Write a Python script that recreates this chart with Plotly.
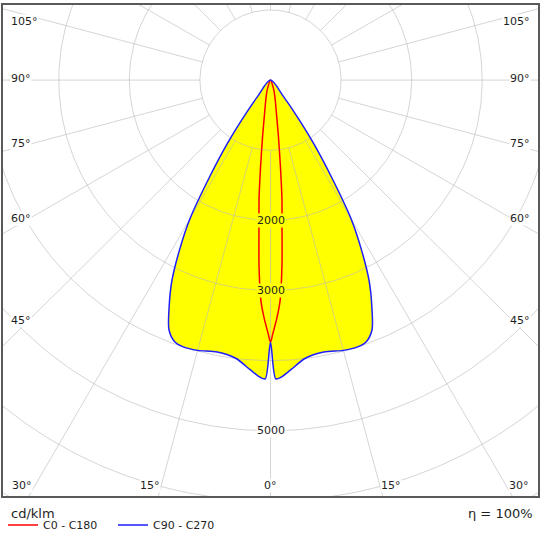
import numpy as np
import plotly.graph_objects as go

# luminous intensity distribution, cd/klm (both halves symmetric)
gamma_c0 = [0, 0.5, 1.5, 2.5, 3.5, 4.5, 5.5, 6.5, 8, 10, 12.5, 15, 17.5, 20, 25]
cd_c0 = [3740, 3620, 3400, 3140, 2660, 2080, 1690, 1240, 800, 485, 325, 230, 170, 110, 0]

gamma_c90 = [0, 1, 2, 4, 7, 11, 15, 18, 20, 22, 24, 26, 28, 30, 32, 34, 36, 38, 40]
cd_c90 = [3740, 4260, 4240, 4140, 4000, 3950, 3990, 4000, 3970, 3840, 3530, 3190,
          2750, 2280, 1630, 1110, 630, 300, 0]

rings = [1000, 2000, 3000, 4000, 5000, 6000, 7000]
ring_labels = [2000, 3000, 5000]
side_ticks = ['105°', '90°', '75°', '60°', '45°']
bottom_ticks = ['30°', '15°', '0°', '15°', '30°']
series_names = ['C0 - C180', 'C90 - C270']
unit = 'cd/klm'
efficiency = 'η = 100%'

K = 1000 / 70.7          # cd/klm per pixel
CX, CY = 271, 78.7       # lamp centre in pixels


def px(xp, yp):
    return (xp - CX) * K, (CY - yp) * K


def half_planes(gamma, cd):
    g = np.radians(gamma)
    v = np.array(cd, dtype=float)
    x = np.concatenate([-(v * np.sin(g))[::-1], (v * np.sin(g))[1:]])
    y = np.concatenate([-(v * np.cos(g))[::-1], -(v * np.cos(g))[1:]])
    return x, y


x0, y0 = half_planes(gamma_c0, cd_c0)
x90, y90 = half_planes(gamma_c90, cd_c90)

grid_col = 'rgba(185,185,185,0.6)'
txt_col = '#1e1e1e'
fig = go.Figure()

# yellow body of the light distribution
fig.add_trace(go.Scatter(x=x90, y=y90, mode='lines', fill='toself', fillcolor='#ffff00',
                         line=dict(width=0, shape='spline', smoothing=0.8),
                         showlegend=False, hoverinfo='skip'))

# grid circles
t = np.linspace(0, 2 * np.pi, 361)
cx, cy = [], []
for r in rings:
    cx += list(r * np.sin(t)) + [None]
    cy += list(-r * np.cos(t)) + [None]
fig.add_trace(go.Scatter(x=cx, y=cy, mode='lines', line=dict(color=grid_col, width=1),
                         showlegend=False, hoverinfo='skip'))

# radial lines every 15 degrees, starting at the first ring
rx, ry = [], []
for a in range(0, 360, 15):
    ar = np.radians(a)
    rx += [rings[0] * np.sin(ar), 9000 * np.sin(ar), None]
    ry += [-rings[0] * np.cos(ar), -9000 * np.cos(ar), None]
fig.add_trace(go.Scatter(x=rx, y=ry, mode='lines', line=dict(color=grid_col, width=1),
                         showlegend=False, hoverinfo='skip'))

fig.add_trace(go.Scatter(x=x0, y=y0, mode='lines', name=series_names[0],
                         line=dict(color='#ff0000', width=1.5, shape='spline', smoothing=0.8)))
fig.add_trace(go.Scatter(x=x90, y=y90, mode='lines', name=series_names[1],
                         line=dict(color='#1e1eff', width=1.5, shape='spline', smoothing=0.8)))

ann = []
for v in ring_labels:
    ann.append(dict(x=0, y=-v, text=str(v), showarrow=False, borderpad=0,
                    bgcolor='#ffff00' if v < cd_c90[0] else 'white',
                    font=dict(size=11, color=txt_col)))

side_y = [20, 77.5, 143, 218, 321]
for lab, yp in zip(side_ticks, side_y):
    xl, yl = px(10, yp)
    xr, _ = px(532, yp)
    ann.append(dict(x=xl, y=yl, text=lab, xanchor='left', showarrow=False, borderpad=0,
                    bgcolor='white', font=dict(size=11, color=txt_col)))
    ann.append(dict(x=xr, y=yl, text=lab, xanchor='right', showarrow=False, borderpad=0,
                    bgcolor='white', font=dict(size=11, color=txt_col)))

bottom_x = [22.5, 150, 271, 392, 520]
for lab, xp in zip(bottom_ticks, bottom_x):
    xb, yb = px(xp, 487)
    ann.append(dict(x=xb, y=yb, text=lab, showarrow=False, borderpad=0,
                    bgcolor='white', font=dict(size=11, color=txt_col)))

ann.append(dict(x=0.011, y=-0.036, xref='paper', yref='paper', xanchor='left', yanchor='middle',
                text=unit, showarrow=False, font=dict(size=13, color=txt_col)))
ann.append(dict(x=0.994, y=-0.036, xref='paper', yref='paper', xanchor='right', yanchor='middle',
                text=efficiency, showarrow=False, font=dict(size=13, color=txt_col)))

xa0, ya0 = px(3, 498)
xa1, ya1 = px(539, 3)
axis = dict(showgrid=False, zeroline=False, showticklabels=False, ticks='',
            showline=True, mirror=True, linecolor='#5a5a5a', linewidth=1.5)
fig.update_layout(
    width=543, height=543,
    margin=dict(l=3, r=4, t=3, b=45),
    paper_bgcolor='white', plot_bgcolor='white',
    font=dict(family='DejaVu Sans', color=txt_col),
    xaxis=dict(range=[xa0, xa1], **axis),
    yaxis=dict(range=[ya0, ya1], **axis),
    annotations=ann,
    legend=dict(orientation='h', x=0, xanchor='left', y=-0.059, yanchor='middle',
                font=dict(size=11, color=txt_col), entrywidth=65, itemwidth=30,
                bgcolor='rgba(0,0,0,0)'),
    showlegend=True,
)

fig.write_html("out.html", config={'displayModeBar': False},
               post_script="document.body.style.margin='0';")
